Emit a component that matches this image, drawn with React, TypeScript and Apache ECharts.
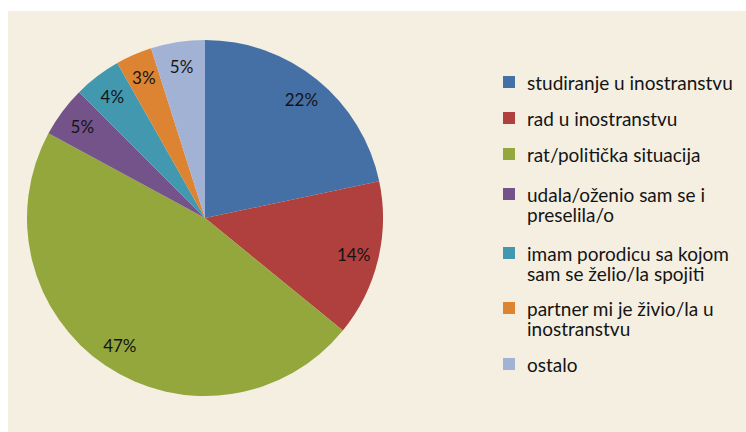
import React, { useEffect, useRef } from "react";
import * as echarts from "echarts";

const categories = [
  "studiranje u inostranstvu",
  "rad u inostranstvu",
  "rat/politička situacija",
  "udala/oženio sam se i\npreselila/o",
  "imam porodicu sa kojom\nsam se želio/la spojiti",
  "partner mi je živio/la u\ninostranstvu",
  "ostalo",
];
const values = [21.7, 14.2, 47.0, 4.6, 4.3, 3.3, 4.9];
const colors = ["#4470A6", "#AF403D", "#93A73D", "#735389", "#4298AF", "#DD8432", "#A1B2D4"];

const FONT = "Lato";
const legendCenters = [82, 118, 154, 194, 253, 308, 364];

export default function App() {
  const ref = useRef<HTMLDivElement>(null);
  useEffect(() => {
    if (!ref.current) return;
    const chart = echarts.init(ref.current, undefined, { renderer: "svg" });
    const data = categories.map((c, i) => ({ name: c, value: values[i], itemStyle: { color: colors[i] } }));
    const legendGraphics: any[] = [];
    categories.forEach((c, i) => {
      const cy = legendCenters[i];
      legendGraphics.push({
        type: "rect",
        shape: { x: 503, y: cy - 6, width: 12, height: 12 },
        style: { fill: colors[i] },
        silent: true,
      });
      legendGraphics.push({
        type: "text",
        x: 527,
        y: cy - 10,
        style: {
          text: c,
          fill: "#141414",
          font: `19px ${FONT}`,
          lineHeight: 20,
          textVerticalAlign: "top",
        },
        silent: true,
      });
    });
    chart.setOption({
      animation: false,
      backgroundColor: "#ffffff",
      graphic: [
        {
          type: "rect",
          z: -10,
          shape: { x: 8, y: 11, width: 738, height: 421 },
          style: { fill: "#F5EFE2" },
          silent: true,
        },
        ...legendGraphics,
      ],
      series: [
        {
          type: "pie",
          center: [205, 218],
          radius: [0, 178],
          startAngle: 90,
          clockwise: true,
          label: { show: false },
          labelLine: { show: false },
          silent: true,
          data,
        },
        {
          type: "pie",
          center: [205, 218],
          radius: [122, 178],
          startAngle: 90,
          clockwise: true,
          silent: true,
          itemStyle: { color: "rgba(0,0,0,0)" },
          label: {
            show: true,
            position: "inside",
            formatter: (p: any) => Math.round(p.percent) + "%",
            color: "#141414",
            fontFamily: FONT,
            fontSize: 17,
          },
          labelLine: { show: false },
          data: categories.map((c, i) => ({ name: c, value: values[i] })),
        },
      ],
    });
    return () => chart.dispose();
  }, []);
  return (
    <div
      ref={ref}
      style={{ position: "fixed", left: 0, top: 0, width: 746, height: 432 }}
    />
  );
}
